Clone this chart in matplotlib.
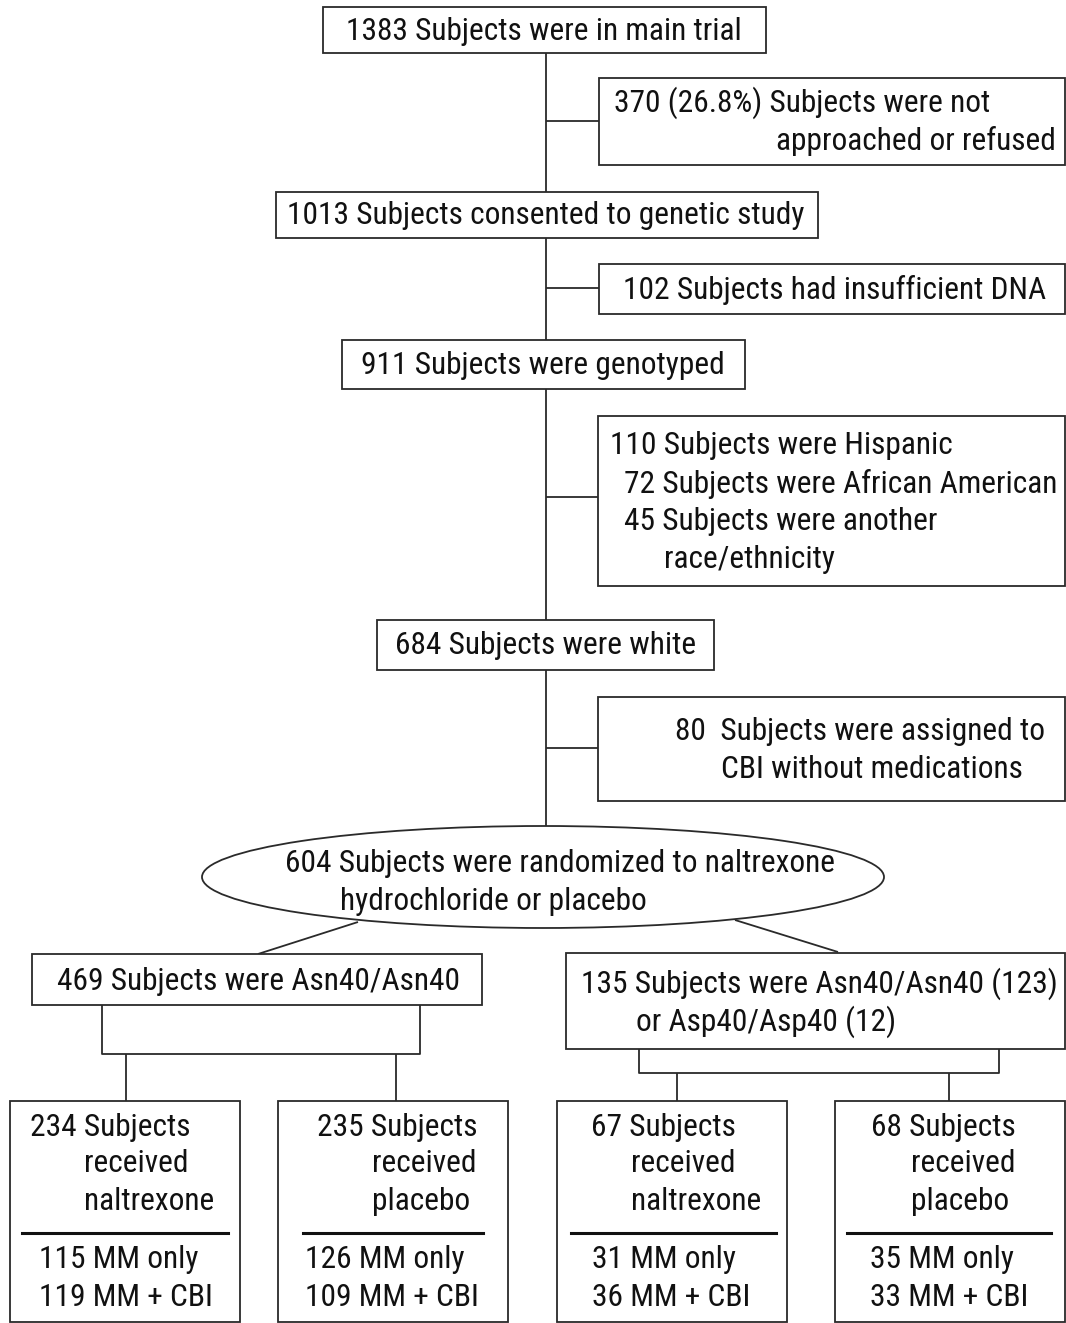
import matplotlib
matplotlib.use("Agg")
import matplotlib.pyplot as plt
from matplotlib.patches import Rectangle, Ellipse
from matplotlib import font_manager

# ---- data (texts / counts) ----
n_main = 1383
n_not_approached = 370
pct_not_approached = 26.8
n_consented = 1013
n_insufficient_dna = 102
n_genotyped = 911
n_hispanic = 110
n_african_american = 72
n_other_race = 45
n_white = 684
n_cbi_no_med = 80
n_randomized = 604
n_asn40 = 469
n_asp40_carriers = 135
n_asp_asn = 123
n_asp_asp = 12
arm_totals = [234, 235, 67, 68]
arm_drug = ["naltrexone", "placebo", "naltrexone", "placebo"]
arm_mm_only = [115, 126, 31, 35]
arm_mm_cbi = [119, 109, 36, 33]

names = {f.name for f in font_manager.fontManager.ttflist}
candidates = ["Liberation Sans Narrow", "Roboto Condensed", "Archivo Narrow",
              "PT Sans Narrow", "Pragati Narrow", "Fira Sans Condensed",
              "IBM Plex Sans Condensed", "Encode Sans Condensed",
              "Barlow Semi Condensed", "Open Sans Condensed"]
fam = next((c for c in candidates if c in names), "DejaVu Sans")
plt.rcParams["font.family"] = [fam, "DejaVu Sans"]

W, H = 1066, 1323
fig = plt.figure(figsize=(W / 100, H / 100), dpi=100)
ax = fig.add_axes([0, 0, 1, 1])
ax.set_xlim(0, W)
ax.set_ylim(H, 0)
ax.axis("off")

LC = "#2a2a2a"
LW = 1.3
FS = 22.6
DY = 2


def box(x0, y0, x1, y1):
    ax.add_patch(Rectangle((x0, y0), x1 - x0, y1 - y0, fc="white", ec=LC,
                           lw=LW, zorder=2))


def line(xs, ys):
    ax.plot(xs, ys, color=LC, lw=LW, solid_capstyle="butt", zorder=1)


def txt(x, y, s, ha="left"):
    ax.text(x, y + DY, s, ha=ha, va="center", fontsize=FS, color="#111111",
            zorder=3)


# main spine
line([546, 546], [53, 826])

# top box
box(323, 7, 766, 53)
txt(544, 30, f"{n_main} Subjects were in main trial", ha="center")

# side box 1
line([546, 599], [121, 121])
box(599, 78, 1065, 165)
txt(614, 101, f"{n_not_approached} ({pct_not_approached}%) Subjects were not")
txt(1056, 139, "approached or refused", ha="right")

# consented
box(276, 192, 818, 238)
txt(546, 214, f"{n_consented} Subjects consented to genetic study", ha="center")

# side box 2
line([546, 599], [288, 288])
box(599, 264, 1065, 314)
txt(623, 288, f"{n_insufficient_dna} Subjects had insufficient DNA")

# genotyped
box(342, 340, 745, 389)
txt(543, 364, f"{n_genotyped} Subjects were genotyped", ha="center")

# side box 3
line([546, 598], [497, 497])
box(598, 416, 1065, 586)
txt(610, 444, f"{n_hispanic} Subjects were Hispanic")
txt(624, 482, f"{n_african_american} Subjects were African American")
txt(624, 520, f"{n_other_race} Subjects were another")
txt(664, 557, "race/ethnicity")

# white
box(377, 620, 714, 670)
txt(546, 644, f"{n_white} Subjects were white", ha="center")

# side box 4
line([546, 598], [748, 748])
box(598, 697, 1065, 801)
txt(675, 730, f"{n_cbi_no_med}  Subjects were assigned to")
txt(721, 768, "CBI without medications")

# ellipse
ax.add_patch(Ellipse((543, 877), 682, 102, fc="white", ec=LC, lw=LW, zorder=2))
txt(285, 862, f"{n_randomized} Subjects were randomized to naltrexone")
txt(340, 899, "hydrochloride or placebo")

# diagonals
line([358, 258], [922, 954])
line([735, 838], [920, 952])

# genotype group boxes
box(32, 954, 482, 1005)
txt(57, 979, f"{n_asn40} Subjects were Asn40/Asn40")
box(566, 953, 1065, 1049)
txt(581, 982, f"{n_asp40_carriers} Subjects were Asn40/Asn40 ({n_asp_asn})")
txt(636, 1020, f"or Asp40/Asp40 ({n_asp_asp})")

# left bracket
line([102, 102, 420, 420], [1005, 1054, 1054, 1005])
line([126, 126], [1054, 1101])
line([396, 396], [1054, 1101])
# right bracket
line([639, 639, 999, 999], [1049, 1073, 1073, 1049])
line([677, 677], [1073, 1101])
line([949, 949], [1073, 1101])

# bottom arm boxes
arm_layout = [
    # box x0, x1, first line x, indent x, divider x0, x1, count x
    (10, 240, 30, 84, 22, 228, 39),
    (278, 508, 317, 372, 303, 483, 305),
    (557, 787, 591, 631, 571, 776, 592),
    (835, 1065, 871, 911, 847, 1051, 870),
]
for (x0, x1, tx, ix, d0, d1, cx), tot, drug, mo, mc in zip(
        arm_layout, arm_totals, arm_drug, arm_mm_only, arm_mm_cbi):
    box(x0, 1101, x1, 1322)
    txt(tx, 1125, f"{tot} Subjects")
    txt(ix, 1162, "received")
    txt(ix, 1200, drug)
    ax.plot([d0, d1], [1233, 1233], color="#111111", lw=2.2, zorder=3)
    txt(cx, 1257, f"{mo} MM only")
    txt(cx, 1295, f"{mc} MM + CBI")

fig.savefig("out.png", dpi=100, facecolor="white")
